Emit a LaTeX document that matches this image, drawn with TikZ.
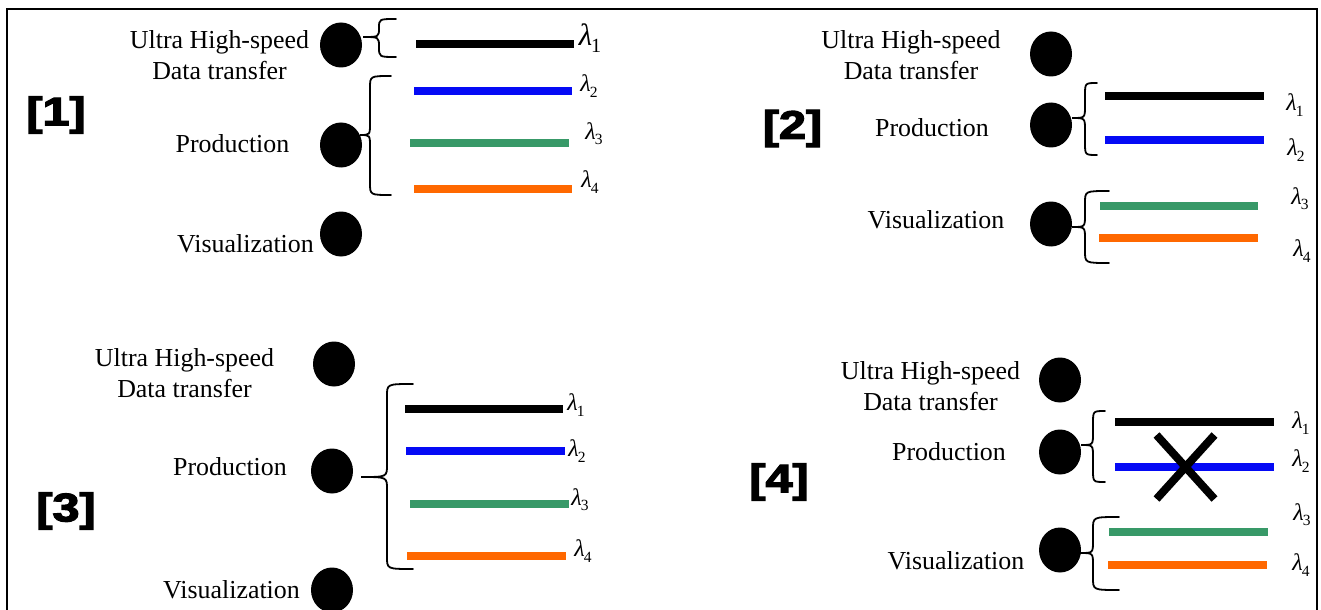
\documentclass[tikz,border=0pt]{standalone}
\usepackage{fontspec}
\setmainfont{Liberation Serif}
\newfontfamily\tagfont[BoldFeatures={FakeBold=3}]{Liberation Sans}
\usetikzlibrary{shapes.geometric,shapes.misc}

\definecolor{wlblue}{RGB}{5,10,245}
\definecolor{wlgreen}{RGB}{56,153,104}
\definecolor{wlorange}{RGB}{255,104,0}

% wavelength label: italic lambda with a small lowered index
\newcommand{\wlam}[1]{\textit{λ}\kern-0.04em\raisebox{-0.22em}{\scalebox{0.65}{#1}}}

% curly brace opening to the right
% #1 tip x, #2 tip y, #3 spine x, #4 arm x, #5 top y, #6 bottom y
\newcommand{\wbrace}[6]{%
  \pgfmathsetmacro{\brA}{min(12,(#2-#5)/2)}%
  \pgfmathsetmacro{\brB}{min(12,(#6-#2)/2)}%
  \draw[bracestyle] (#4,#5) .. controls (#3,#5) .. (#3,#5+\brA)
    -- (#3,#2-\brA) .. controls (#3,#2) .. (#1,#2)
    .. controls (#3,#2) .. (#3,#2+\brB)
    -- (#3,#6-\brB) .. controls (#3,#6) .. (#4,#6);}

\tikzset{
  dot/.style={ellipse,fill=black,minimum width=42bp,minimum height=45bp,inner sep=0},
  lbl/.style={font=\fontsize{26}{31}\selectfont,inner sep=0},
  twoline/.style={lbl,align=center,anchor=north},
  tag/.style={font=\tagfont\bfseries\fontsize{40}{40}\selectfont,xscale=1.22,inner sep=0},
  wl/.style={line width=7.5bp},
  lam/.style={inner sep=0,font=\fontsize{24}{24}\selectfont},
  biglam/.style={inner sep=0,font=\fontsize{31}{31}\selectfont},
  bracestyle/.style={line width=1.8bp,line cap=round},
  frame/.style={line width=2.5bp},
  xmark/.style={cross out,draw,line width=8bp,minimum width=50bp,minimum height=56bp,inner sep=0},
}

\begin{document}
\begin{tikzpicture}[x=1bp,y=-1bp]
\useasboundingbox (0,0) rectangle (1321,610);
\draw[frame] (7,612) -- (7,9) -- (1317,9) -- (1317,612);

% ---------- [1] ----------
\node[tag] (t1) at (56,115) {[1]};
\node[twoline] (u1) at (219.5,30) {Ultra High-speed\\Data transfer};
\node[lbl,anchor=base] (pr1) at (232.5,153) {Production};
\node[lbl,anchor=base] (vi1) at (245.5,252) {Visualization};
\node[dot] (du1) at (341,45) {};
\node[dot] (dp1) at (341,145) {};
\node[dot] (dv1) at (341,234) {};
\wbrace{363}{37}{379}{396}{19}{57}
\wbrace{360}{135}{370}{391}{76}{195}
\draw[wl,black]    (416,44)  -- (574,44);
\draw[wl,wlblue]   (414,91)  -- (572,91);
\draw[wl,wlgreen]  (410,143) -- (569,143);
\draw[wl,wlorange] (414,189) -- (572,189);
\node[biglam] (l11) at (590,38)  {\wlam{1}};
\node[lam]    (l12) at (589,86)  {\wlam{2}};
\node[lam]    (l13) at (594,134) {\wlam{3}};
\node[lam]    (l14) at (590,182) {\wlam{4}};

% ---------- [2] ----------
\node[tag] (t2) at (792.5,128.5) {[2]};
\node[twoline] (u2) at (911,30) {Ultra High-speed\\Data transfer};
\node[lbl,anchor=base] (pr2) at (932,137) {Production};
\node[lbl,anchor=base] (vi2) at (936,228) {Visualization};
\node[dot] (du2) at (1051,54) {};
\node[dot] (dp2) at (1051,125) {};
\node[dot] (dv2) at (1051,224) {};
\wbrace{1072}{118}{1085}{1097}{83}{155}
\wbrace{1072}{227}{1085}{1109}{191}{263}
\draw[wl,black]    (1105,96)  -- (1264,96);
\draw[wl,wlblue]   (1105,140) -- (1264,140);
\draw[wl,wlgreen]  (1100,206) -- (1258,206);
\draw[wl,wlorange] (1099,238) -- (1258,238);
\node[lam] (l21) at (1295,105) {\wlam{1}};
\node[lam] (l22) at (1296,150) {\wlam{2}};
\node[lam] (l23) at (1300,199) {\wlam{3}};
\node[lam] (l24) at (1302,251) {\wlam{4}};

% ---------- [3] ----------
\node[tag] (t3) at (66,511) {[3]};
\node[twoline] (u3) at (184.5,348) {Ultra High-speed\\Data transfer};
\node[lbl,anchor=base] (pr3) at (230,475) {Production};
\node[lbl,anchor=base] (vi3) at (231.5,598) {Visualization};
\node[dot] (du3) at (334,364) {};
\node[dot] (dp3) at (332,471) {};
\node[dot] (dv3) at (332,590) {};
\wbrace{361}{477}{387}{413}{384}{569}
\draw[wl,black]    (405,409) -- (563,409);
\draw[wl,wlblue]   (406,451) -- (565,451);
\draw[wl,wlgreen]  (410,504) -- (569,504);
\draw[wl,wlorange] (407,556) -- (566,556);
\node[lam] (l31) at (576,405) {\wlam{1}};
\node[lam] (l32) at (577,451) {\wlam{2}};
\node[lam] (l33) at (580,500) {\wlam{3}};
\node[lam] (l34) at (583,551) {\wlam{4}};

% ---------- [4] ----------
\node[tag] (t4) at (779,482) {[4]};
\node[twoline] (u4) at (930.5,361) {Ultra High-speed\\Data transfer};
\node[lbl,anchor=base] (pr4) at (949,460) {Production};
\node[lbl,anchor=base] (vi4) at (956,569) {Visualization};
\node[dot] (du4) at (1060,380) {};
\node[dot] (dp4) at (1060,452) {};
\node[dot] (dv4) at (1060,550) {};
\wbrace{1081}{445}{1093}{1105}{411}{482}
\wbrace{1080}{553}{1093}{1119}{517}{590}
\draw[wl,black]    (1115,422) -- (1274,422);
\draw[wl,wlblue]   (1115,467) -- (1274,467);
\draw[wl,wlgreen]  (1109,532) -- (1268,532);
\draw[wl,wlorange] (1108,565) -- (1267,565);
\node[xmark] (x4) at (1185.5,467) {};
\node[lam] (l41) at (1301,423) {\wlam{1}};
\node[lam] (l42) at (1301,461) {\wlam{2}};
\node[lam] (l43) at (1302,515) {\wlam{3}};
\node[lam] (l44) at (1301,565) {\wlam{4}};
\end{tikzpicture}
\end{document}
